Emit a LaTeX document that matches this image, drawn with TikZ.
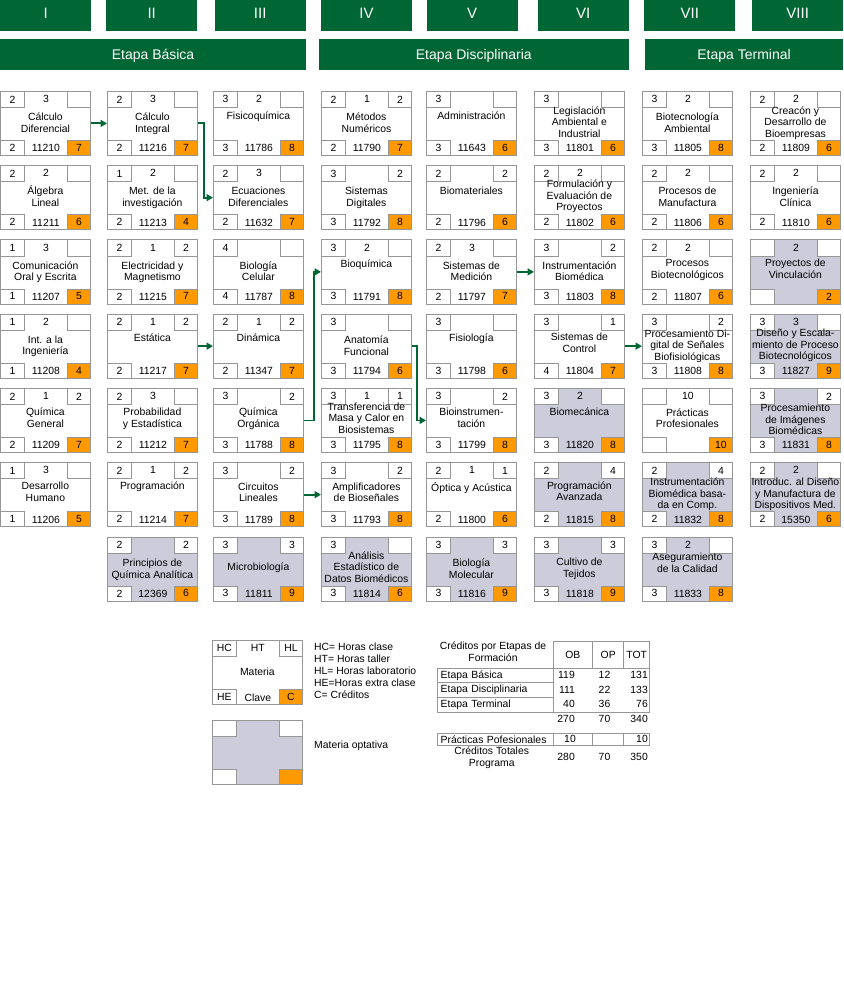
\documentclass[tikz,border=0pt]{standalone}
\usepackage{fontspec}
\setmainfont{Liberation Sans}
\usepackage{tikz}
\usetikzlibrary{arrows.meta}
\definecolor{verde}{RGB}{0,102,51}
\definecolor{naranja}{RGB}{255,153,0}
\definecolor{optgris}{RGB}{204,204,218}
\definecolor{linea}{RGB}{150,150,150}
\tikzset{
    materia/.style={
      rectangle,
      draw=linea, line width=0.8pt,
      fill=white,
      minimum width=90pt,
      minimum height=64pt,
      inner sep=0pt,
      anchor=north west,
    },
    optativa/.style={fill=optgris},
    celda/.style={
      rectangle,
      draw=linea, line width=0.8pt,
      fill=white,
      minimum width=24pt,
      minimum height=16pt,
      inner sep=0pt,
      font=\fontsize{10.4}{12}\selectfont,
    },
    creditos/.style={celda, fill=naranja, minimum width=23pt, minimum height=15pt},
    numero/.style={inner sep=0pt, font=\fontsize{10.4}{12}\selectfont},
    nombre/.style={inner sep=0pt, anchor=base, font=\fontsize{10.4}{11.5}\selectfont},
    semestre/.style={
      rectangle,
      fill=verde, text=white,
      minimum width=91pt,
      minimum height=31pt,
      text depth=4pt,
      inner sep=0pt,
      anchor=north west,
      font=\fontsize{15}{17}\selectfont,
    },
    etapa/.style={semestre, text depth=0pt, font=\fontsize{14}{16}\selectfont},
    liga/.style={draw=verde, line width=1.8pt, ->},
    tabla/.style={
      rectangle,
      draw=linea, line width=0.8pt,
      inner sep=0pt,
      anchor=north west,
      font=\fontsize{10.4}{12}\selectfont,
    },
    etiqueta/.style={text width=109.4pt, inner xsep=3pt, align=left},
    texto/.style={inner sep=0pt, font=\fontsize{10.4}{12}\selectfont},
    cifra/.style={texto, anchor=base east},
}

% #1 estilo, #2 nombre, #3 x, #4 y, #5 HC/HT/HL/HE/clave/C, #6 materia, #7 linea base
\newcommand{\materia}[7][]{%
    \node[materia,#1] (#2) at (#3,#4) {};
    \foreach \nhc/\nht/\nhl/\nhe/\nclave/\ncred in {#5}{
      \node[celda, anchor=north west] (#2-hc) at (#2.north west) {\nhc};
      \node[celda, anchor=north east, minimum width=23pt] (#2-hl) at (#2.north east) {\nhl};
      \node[celda, anchor=south west, minimum height=15pt] (#2-he) at (#2.south west) {\nhe};
      \node[creditos, anchor=south east] (#2-c) at (#2.south east) {\ncred};
      \node[numero] (#2-ht) at ([xshift=0.5pt,yshift=-8pt]#2.north) {\nht};
      \node[numero] (#2-clave) at ([xshift=0.5pt,yshift=7.5pt]#2.south) {\nclave};
    }
    \node[nombre] (#2-nom) at ([yshift=-#7pt]#2.north)
    {
      \begin{tabular}[t]{@{}c@{}}#6\end{tabular}
    };
}

\begin{document}
\begin{tikzpicture}[x=1pt, y=-1pt, >={Triangle[length=6.5pt,width=7pt]}]

    \useasboundingbox (0,0) rectangle (843,984);

    \node[semestre] (sI) at (0,0) {I};
    \node[semestre] (sII) at (106,0) {II};
    \node[semestre] (sIII) at (214.5,0) {III};
    \node[semestre] (sIV) at (320.8,0) {IV};
    \node[semestre] (sV) at (426.4,0) {V};
    \node[semestre] (sVI) at (537.5,0) {VI};
    \node[semestre] (sVII) at (644.2,0) {VII};
    \node[semestre] (sVIII) at (752,0) {VIII};

    \node[etapa, minimum width=305.7pt] (basica) at (0,39) {Etapa Básica};
    \node[etapa, minimum width=310pt] (disciplinaria) at (318.6,39) {Etapa Disciplinaria};
    \node[etapa, minimum width=198.3pt] (terminal) at (644.7,39) {Etapa Terminal};

    \materia{c11210}{0}{91}{2/3//2/11210/7}{Cálculo\\Diferencial}{29.7}
    \materia{c11216}{107}{91}{2/3//2/11216/7}{Cálculo\\Integral}{29.7}
    \materia{c11786}{213}{91}{3/2//3/11786/8}{Fisicoquímica}{29}
    \materia{c11790}{321}{91}{2/1/2/2/11790/7}{Métodos\\Numéricos}{30}
    \materia{c11643}{426}{91}{3///3/11643/6}{Administración}{29}
    \materia{c11801}{534}{91}{3///3/11801/6}{Legislación\\Ambiental e\\Industrial}{23.5}
    \materia{c11805}{642}{91}{3/2//3/11805/8}{Biotecnología\\Ambiental}{29.7}
    \materia{c11809}{750}{91}{2/2//2/11809/6}{Creacón y\\Desarrollo de\\Bioempresas}{23.3}

    \materia{c11211}{0}{165.25}{2/2//2/11211/6}{Álgebra\\Lineal}{29.7}
    \materia{c11213}{107}{165.25}{1/2//2/11213/4}{Met. de la\\investigación}{29.7}
    \materia{c11632}{213}{165.25}{2/3//2/11632/7}{Ecuaciones\\Diferenciales}{29.7}
    \materia{c11792}{321}{165.25}{3//2/3/11792/8}{Sistemas\\Digitales}{29.7}
    \materia{c11796}{426}{165.25}{2//2/2/11796/6}{Biomateriales}{29}
    \materia{c11802}{534}{165.25}{2/2//2/11802/6}{Formulación y\\Evaluación de\\Proyectos}{22.5}
    \materia{c11806}{642}{165.25}{2/2//2/11806/6}{Procesos de\\Manufactura}{29.7}
    \materia{c11810}{750}{165.25}{2/2//2/11810/6}{Ingeniería\\Clínica}{29.7}

    \materia{c11207}{0}{239.5}{1/3//1/11207/5}{Comunicación\\Oral y Escrita}{29.7}
    \materia{c11215}{107}{239.5}{2/1/2/2/11215/7}{Electricidad y\\Magnetismo}{29.7}
    \materia{c11787}{213}{239.5}{4///4/11787/8}{Biología\\Celular}{29.7}
    \materia{c11791}{321}{239.5}{3/2//3/11791/8}{Bioquímica}{28}
    \materia{c11797}{426}{239.5}{2/3//2/11797/7}{Sistemas de\\Medición}{29.7}
    \materia{c11803}{534}{239.5}{3//2/3/11803/8}{Instrumentación\\Biomédica}{29.7}
    \materia{c11807}{642}{239.5}{2/2//2/11807/6}{Procesos\\Biotecnológicos}{27}
    \materia[optativa]{cvinc}{750}{239.5}{/2////2}{Proyectos de\\Vinculación}{27}

    \materia{c11208}{0}{313.75}{1/2//1/11208/4}{Int. a la\\Ingeniería}{29.7}
    \materia{c11217}{107}{313.75}{2/1/2/2/11217/7}{Estática}{28}
    \materia{c11347}{213}{313.75}{2/1/2/2/11347/7}{Dinámica}{28}
    \materia{c11794}{321}{313.75}{3///3/11794/6}{Anatomía\\Funcional}{30}
    \materia{c11798}{426}{313.75}{3///3/11798/6}{Fisiología}{28}
    \materia{c11804}{534}{313.75}{3//1/4/11804/7}{Sistemas de\\Control}{27}
    \materia{c11808}{642}{313.75}{3//2/3/11808/8}{Procesamiento Di-\\gital de Señales\\Biofisiológicas}{23.5}
    \materia[optativa]{c11827}{750}{313.75}{3/3//3/11827/9}{Diseño y Escala-\\miento de Proceso\\Biotecnológicos}{23}

    \materia{c11209}{0}{388}{2/1/2/2/11209/7}{Química\\General}{27.5}
    \materia{c11212}{107}{388}{2/3//2/11212/7}{Probabilidad\\y Estadística}{27.5}
    \materia{c11788}{213}{388}{3//2/3/11788/8}{Química\\Orgánica}{27.5}
    \materia{c11795}{321}{388}{3/1/1/3/11795/8}{Transferencia de\\Masa y Calor en\\Biosistemas}{22}
    \materia{c11799}{426}{388}{3//2/3/11799/8}{Bioinstrumen-\\tación}{27.5}
    \materia[optativa]{c11820}{534}{388}{3/2//3/11820/8}{Biomecánica}{27.5}
    \materia{cpracticas}{642}{388}{/10////10}{Prácticas\\Profesionales}{28}
    \materia[optativa]{c11831}{750}{388}{3//2/3/11831/8}{Procesamiento\\de Imágenes\\Biomédicas}{23.5}

    \materia{c11206}{0}{462.25}{1/3//1/11206/5}{Desarrollo\\Humano}{27.7}
    \materia{c11214}{107}{462.25}{2/1/2/2/11214/7}{Programación}{27.5}
    \materia{c11789}{213}{462.25}{3//2/3/11789/8}{Circuitos\\Lineales}{28}
    \materia{c11793}{321}{462.25}{3//2/3/11793/8}{Amplificadores\\de Bioseñales}{28}
    \materia{c11800}{426}{462.25}{2/1/1/2/11800/6}{Óptica y Acústica}{29}
    \materia[optativa]{c11815}{534}{462.25}{2//4/2/11815/8}{Programación\\Avanzada}{27}
    \materia[optativa]{c11832}{642}{462.25}{2//4/2/11832/8}{Instrumentación\\Biomédica basa-\\da en Comp.}{23.5}
    \materia[optativa]{c15350}{750}{462.25}{2/2//2/15350/6}{Introduc. al Diseño\\y Manufactura de\\Dispositivos Med.}{23.5}

    \materia[optativa]{c12369}{107}{536.5}{2//2/2/12369/6}{Principios de\\Química Analítica}{30}
    \materia[optativa]{c11811}{213}{536.5}{3//3/3/11811/9}{Microbiología}{34}
    \materia[optativa]{c11814}{321}{536.5}{3///3/11814/6}{Análisis\\Estadístico de\\Datos Biomédicos}{22.8}
    \materia[optativa]{c11816}{426}{536.5}{3//3/3/11816/9}{Biología\\Molecular}{30}
    \materia[optativa]{c11818}{534}{536.5}{3//3/3/11818/9}{Cultivo de\\Tejidos}{29}
    \materia[optativa]{c11833}{642}{536.5}{3/2//3/11833/8}{Aseguramiento\\de la Calidad}{24}

    \draw[liga] (c11210) -- (c11216);
    \draw[liga] (c11216.east) -- ++(6,0) |- (c11632.west);
    \draw[liga] (c11217) -- (c11347);
    \draw[liga] (c11788.east) -- ++(10,0) |- (c11791.west);
    \draw[liga] (c11794.east) -- ++(5,0) |- (c11799.west);
    \draw[liga] (c11789) -- (c11793);
    \draw[liga] (c11797) -- (c11803);
    \draw[liga] (c11804) -- (c11808);

    \materia{leyenda}{212}{640}{HC/HT/HL/HE/Clave/C}{Materia}{35.5}
    \materia[optativa]{leyopt}{212}{720}{/////}{}{30}

    \node[texto, anchor=base west, font=\fontsize{10.4}{11.9}\selectfont] (claves) at (314,650.7)
    {
      \begin{tabular}[t]{@{}l@{}}
        HC= Horas clase\\
        HT= Horas taller\\
        HL= Horas laboratorio\\
        HE=Horas extra clase\\
        C= Créditos
      \end{tabular}
    };
    \node[texto, anchor=base west] (optativas) at (314,748.3) {Materia optativa};

    \node[texto, anchor=base, font=\fontsize{10.4}{12.4}\selectfont] (titulo) at (493,649.3)
    {
      \begin{tabular}[t]{@{}c@{}}
        Créditos por Etapas de\\
        Formación
      \end{tabular}
    };
    \node[tabla, minimum width=39.6pt, minimum height=27pt] (ob) at (552.7,640.7) {OB};
    \node[tabla, minimum width=31pt, minimum height=27pt] (op) at (592.3,640.7) {OP};
    \node[tabla, minimum width=26pt, minimum height=27pt] (tot) at (623.3,640.7) {TOT};

    \node[tabla, etiqueta, minimum height=14.67pt] (ebas) at (437.3,667.7) {Etapa Básica};
    \node[tabla, etiqueta, minimum height=14.67pt] (edis) at (437.3,682.37) {Etapa Disciplinaria};
    \node[tabla, etiqueta, minimum height=14.67pt] (eter) at (437.3,697.03) {Etapa Terminal};
    \node[tabla, minimum width=96.6pt, minimum height=44pt] (marco) at (552.7,667.7) {};

    \node[cifra] (bas-ob) at (575,678.3) {119};
    \node[cifra] (bas-op) at (610.5,678.3) {12};
    \node[cifra] (bas-tot) at (648,678.3) {131};
    \node[cifra] (dis-ob) at (575,693.3) {111};
    \node[cifra] (dis-op) at (610.5,693.3) {22};
    \node[cifra] (dis-tot) at (648,693.3) {133};
    \node[cifra] (ter-ob) at (575,707.3) {40};
    \node[cifra] (ter-op) at (610.5,707.3) {36};
    \node[cifra] (ter-tot) at (648,707.3) {76};
    \node[cifra] (sum-ob) at (575,722.7) {270};
    \node[cifra] (sum-op) at (610.5,722.7) {70};
    \node[cifra] (sum-tot) at (648,722.7) {340};

    \node[tabla, etiqueta, minimum height=12.6pt] (prac) at (437.3,732.7) {Prácticas Pofesionales};
    \node[tabla, minimum width=39.6pt, minimum height=12.6pt] (prac-ob) at (552.7,732.7) {};
    \node[tabla, minimum width=31pt, minimum height=12.6pt] (prac-op) at (592.3,732.7) {};
    \node[tabla, minimum width=26pt, minimum height=12.6pt] (prac-tot) at (623.3,732.7) {};
    \node[cifra] (prac-ob-n) at (576,742.6) {10};
    \node[cifra] (prac-tot-n) at (648,742.6) {10};

    \node[texto, anchor=base, font=\fontsize{10.4}{12.7}\selectfont] (total) at (491.7,754)
    {
      \begin{tabular}[t]{@{}c@{}}
        Créditos Totales\\
        Programa
      \end{tabular}
    };
    \node[cifra] (tot-ob) at (575,760.7) {280};
    \node[cifra] (tot-op) at (610.5,760.7) {70};
    \node[cifra] (tot-tot) at (648,760.7) {350};

\end{tikzpicture}
\end{document}
